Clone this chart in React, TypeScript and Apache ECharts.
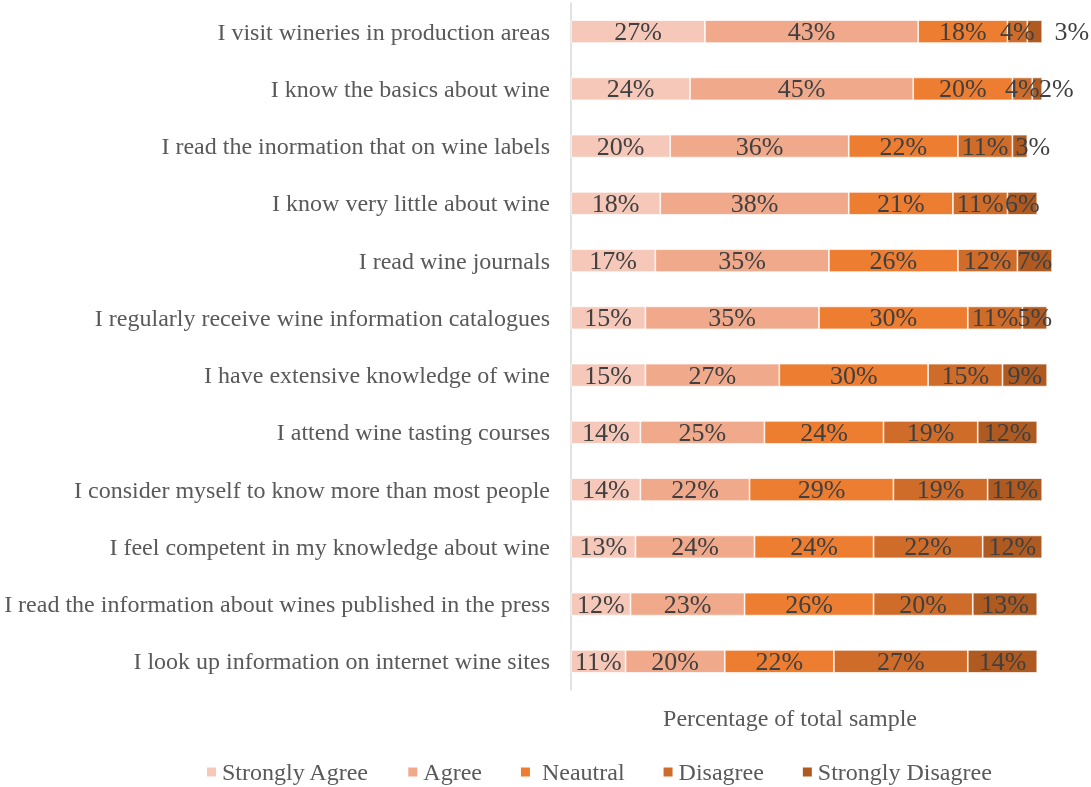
import React, { useEffect, useRef } from "react";
import * as echarts from "echarts";

const categories = [
  "I visit wineries in production areas",
  "I know the basics about wine",
  "I read the inormation that on wine labels",
  "I know very little about wine",
  "I read wine journals",
  "I regularly receive wine information catalogues",
  "I have extensive knowledge of wine",
  "I attend wine tasting courses",
  "I consider myself to know more than most people",
  "I feel competent in my knowledge about wine",
  "I read the information about wines published in the press",
  "I look up information on internet wine sites",
];

const seriesNames = ["Strongly Agree", "Agree", "Neautral", "Disagree", "Strongly Disagree"];
const stronglyAgree = [27, 24, 20, 18, 17, 15, 15, 14, 14, 13, 12, 11];
const agree = [43, 45, 36, 38, 35, 35, 27, 25, 22, 24, 23, 20];
const neutral = [18, 20, 22, 21, 26, 30, 30, 24, 29, 24, 26, 22];
const disagree = [4, 4, 11, 11, 12, 11, 15, 19, 19, 22, 20, 27];
const stronglyDisagree = [3, 2, 3, 6, 7, 5, 9, 12, 11, 12, 13, 14];
const colors = ["#F5C8B9", "#F0A98B", "#ED7D31", "#D06C2A", "#AE5A21"];
const labelShift = [37, 19, 13, 0, 0, 0, 0, 0, 0, 0, 0, 0];

export default function App() {
  const ref = useRef<HTMLDivElement>(null);
  useEffect(() => {
    const chart = echarts.init(ref.current!, null, { renderer: "svg" });
    const font = "'Liberation Serif', 'Times New Roman', serif";
    const all = [stronglyAgree, agree, neutral, disagree, stronglyDisagree];
    const series = all.map((vals, si) => ({
      name: seriesNames[si],
      type: "bar",
      stack: "total",
      barWidth: "40%",
      itemStyle: { color: colors[si], borderColor: "#ffffff", borderWidth: 0.7 },
      label: {
        show: true,
        position: "inside",
        formatter: "{c}%",
        color: "#404040",
        fontFamily: font,
        fontSize: 26,
      },
      data: vals.map((v, i) =>
        si === 4 && labelShift[i]
          ? { value: v, label: { offset: [labelShift[i], 0] } }
          : v
      ),
    }));
    chart.setOption({
      animation: false,
      textStyle: { fontFamily: font },
      grid: { left: 571, right: 24, top: 3, bottom: 97 },
      xAxis: {
        type: "value",
        min: 0,
        max: 100,
        show: false,
      },
      yAxis: {
        type: "category",
        data: categories,
        inverse: true,
        axisLine: { show: true, lineStyle: { color: "#D9D9D9", width: 1.5 } },
        axisTick: { show: false },
        axisLabel: { color: "#595959", fontSize: 24, fontFamily: font, margin: 21 },
      },
      legend: {
        data: seriesNames,
        top: 760,
        left: 200,
        padding: [0, 5, 0, 5],
        itemWidth: 11,
        itemHeight: 11,
        itemGap: 37,
        icon: "rect",
        formatter: (name: string) => (name === "Neautral" ? " " + name : name),
        textStyle: { color: "#595959", fontSize: 24, fontFamily: font },
      },
      graphic: [
        {
          type: "text",
          x: 790,
          y: 718,
          style: {
            text: "Percentage of total sample",
            fill: "#595959",
            fontSize: 24,
            fontFamily: font,
            align: "center",
            verticalAlign: "middle",
          },
        },
      ],
      series,
    });
    return () => chart.dispose();
  }, []);
  return <div ref={ref} style={{ position: "fixed", left: 0, top: 0, width: 1091, height: 787 }} />;
}
